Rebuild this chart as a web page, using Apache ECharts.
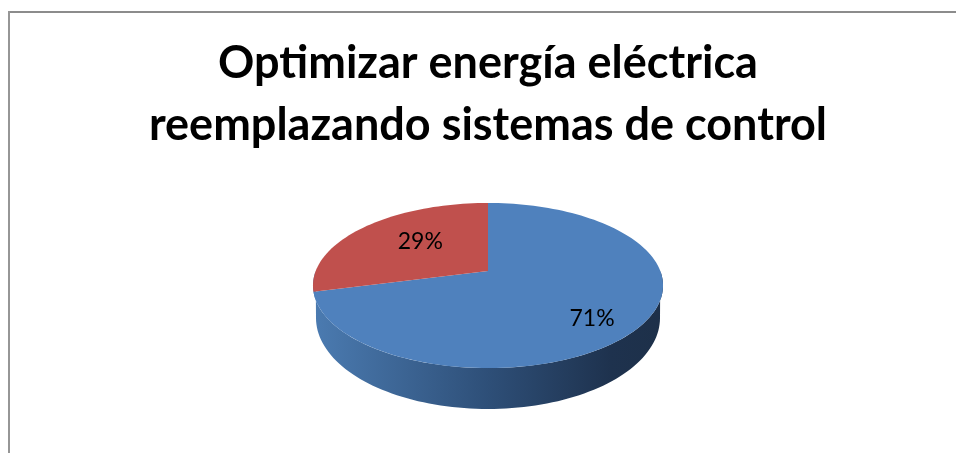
<!DOCTYPE html>
<html><head><meta charset="utf-8">
<style>html,body{margin:0;padding:0;background:#fff}#c{width:956px;height:453px}</style>
<script src="https://cdn.jsdelivr.net/npm/echarts@6/dist/echarts.min.js"></script>
</head><body><div id="c"></div>
<script>
const categories = ['Sí', 'No'];
const values = [71, 29];
const sliceColors = ['#4f81bd', '#c0504d'];
const titleText = 'Optimizar energía eléctrica\nreemplazando sistemas de control';

// projection of the tilted disc
const cx = 488, apexY = 271, rimA = 172.3, rimB = 80, persp = 0.176;
const project = (r, deg) => {
  const t = deg * Math.PI / 180, u = r * Math.sin(t), v = r * Math.cos(t), d = 1 + persp * v;
  return [cx + rimA * u / d, apexY - rimB * v / d];
};
const total = values.reduce((a, b) => a + b, 0);
const labelSpec = [{ r: 0.7, off: [1, 10] }, { r: 0.55, off: [3, -4] }];

const chart = echarts.init(document.getElementById('c'), null, { renderer: 'canvas' });

function wallPoints() {
  const pts = [];
  for (let a = 90; a <= 270; a += 2) pts.push(project(1, a));
  const bcy = 318, brx = 172, bry = 91;
  for (let a = 270; a >= 90; a -= 2) {
    const t = a * Math.PI / 180;
    pts.push([cx + brx * Math.sin(t), bcy - bry * Math.cos(t)]);
  }
  return pts;
}

chart.setOption({
  animation: false,
  backgroundColor: '#fff',
  title: {
    text: titleText, left: 483, top: 27, textAlign: 'center',
    textStyle: { fontFamily: 'Lato', fontWeight: 'bold', fontSize: 45, lineHeight: 62, color: '#000' }
  },
  graphic: [
    { type: 'rect', shape: { x: 8, y: 11, width: 948, height: 2 }, style: { fill: '#8c8c8c' }, silent: true },
    { type: 'rect', shape: { x: 8, y: 11, width: 2, height: 442 }, style: { fill: '#969696' }, silent: true }
  ],
  series: [{
    type: 'custom',
    coordinateSystem: 'none',
    data: values.map((v, i) => ({ name: categories[i], value: v })),
    renderItem(params, api) {
      const i = params.dataIndex;
      let start = 0;
      for (let k = 0; k < i; k++) start += values[k] / total * 360;
      const sweep = api.value(0) / total * 360;
      const pts = [project(0, 0)];
      const n = Math.ceil(sweep / 2);
      for (let k = 0; k <= n; k++) pts.push(project(1, start + sweep * k / n));
      const mid = start + sweep / 2;
      const spec = labelSpec[i];
      const lp = project(spec.r, mid);
      const children = [];
      if (i === 0) {
        children.push({
          type: 'polygon', z2: 1, shape: { points: wallPoints() },
          style: {
            fill: new echarts.graphic.LinearGradient(0, 0, 1, 0, [
              { offset: 0, color: '#4b7bb1' },
              { offset: 0.5, color: '#2e4f78' },
              { offset: 0.85, color: '#1e324e' },
              { offset: 1, color: '#1d3049' }
            ])
          }
        });
      }
      children.push({ type: 'polygon', z2: 2, shape: { points: pts }, style: { fill: sliceColors[i] } });
      children.push({
        type: 'text', z2: 3,
        x: lp[0] + spec.off[0], y: lp[1] + spec.off[1],
        style: {
          text: Math.round(api.value(0) / total * 100) + '%',
          fontFamily: 'Lato', fontSize: 23, fill: '#000', align: 'center', verticalAlign: 'middle'
        }
      });
      return { type: 'group', children };
    }
  }]
});
</script></body></html>
